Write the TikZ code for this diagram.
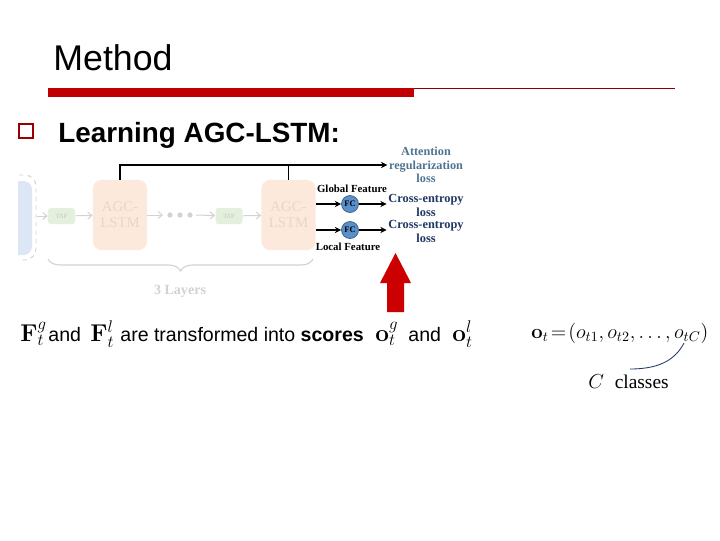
\documentclass[tikz,border=0pt]{standalone}
\usepackage[no-math]{fontspec}
\setmainfont{Liberation Sans}
\newfontfamily\tmsfont{Liberation Serif}
\usetikzlibrary{arrows.meta,decorations.pathreplacing}
\definecolor{slidered}{HTML}{C00000}
\definecolor{arrred}{HTML}{CC0000}
\definecolor{attblue}{HTML}{4E7592}
\definecolor{cenavy}{HTML}{1F3864}
\definecolor{fcblue}{HTML}{5B8FC9}
\definecolor{fadeor}{HTML}{FCE9DC}
\definecolor{fadeortx}{HTML}{EBD5C8}
\definecolor{fadegr}{HTML}{E4EFDD}
\definecolor{fadebl}{HTML}{DCE6F4}
\definecolor{fadetx}{HTML}{D2D2D2}
\tikzset{
  tapbox/.style={fill=fadegr,rounded corners=2pt,minimum width=.675cm,minimum height=.4cm,inner sep=0,
    font=\tmsfont\fontsize{4.5}{5}\selectfont,text=black!22},
  agcbox/.style={fill=fadeor,rounded corners=6pt,minimum width=1.35cm,minimum height=1.75cm,inner sep=0,
    align=center,font=\tmsfont\fontsize{10.5}{11.5}\selectfont,text=fadeortx},
  fadearr/.style={draw=fadetx,line width=.7pt,-{Straight Barb[length=3pt,width=5pt]}},
  fcnode/.style={circle,draw=fcblue!70!black,fill=fcblue,minimum size=.425cm,inner sep=0,
    font=\tmsfont\bfseries\fontsize{6}{6}\selectfont},
  losstext/.style={align=center,inner sep=1pt,font=\tmsfont\bfseries\fontsize{8.8}{10}\selectfont},
  feattext/.style={inner sep=0,font=\tmsfont\bfseries\fontsize{7.7}{8}\selectfont},
  blackarr/.style={line width=.9pt,-{Stealth[length=4.5pt,width=4.5pt]}},
  bodytext/.style={anchor=base west,inner sep=0,font=\fontsize{13.9}{16}\selectfont},
  bodymath/.style={anchor=base west,inner sep=0,font=\fontsize{18.5}{20}\selectfont},
}
\begin{document}
\begin{tikzpicture}[x=.025cm,y=-.025cm,line width=.55pt]
\useasboundingbox[fill=white] (0,0) rectangle (720,540);
\node[anchor=base west,inner sep=0,font=\fontsize{25.4}{30}\selectfont] (title) at (53,70) {Method};
\fill[slidered] (48,88) rectangle (414,97);
\draw[slidered!75!black,line width=.7pt] (414,88) -- (675,88);
\node[draw=slidered!80!black,line width=1.3pt,minimum size=.37cm,inner sep=0] (bul) at (26,131) {};
\node[anchor=base west,inner sep=0,font=\bfseries\fontsize{19.8}{24}\selectfont] (learn) at (58,142) {Learning AGC-LSTM:};
\begin{scope}
\clip (18,170) rectangle (60,270);
\fill[fadebl,rounded corners=6pt] (-10,181) rectangle (32,255);
\draw[fadetx,dashed,line width=.7pt,rounded corners=8pt] (-10,175) rectangle (36,260);
\end{scope}
\coordinate (inp) at (37,216);
\node[tapbox] (tap1) at (61.5,216) {TAP};
\node[agcbox] (agc1) at (120,215) {AGC-\\LSTM};
\node[inner sep=0,minimum size=.2cm] (dots) at (180,215) {};
\fill[fadetx] (170,215) circle (2.6) (180,215) circle (2.6) (190,215) circle (2.6);
\node[tapbox] (tap2) at (229,216) {TAP};
\node[agcbox] (agc2) at (288.5,215) {AGC-\\LSTM};
\draw[fadearr] (inp) -- (tap1);
\draw[fadearr] (tap1) -- (agc1);
\draw[fadearr] (agc1.east) -- (163,215);
\draw[fadearr] (196,215) -- (tap2);
\draw[fadearr] (tap2) -- (agc2);
\draw[fadetx,line width=.8pt,decorate,decoration={brace,mirror,amplitude=.3cm}] (48,259) -- (313,259);
\node[font=\tmsfont\bfseries\fontsize{10}{11}\selectfont,text=fadetx] (layers) at (180,291) {3 Layers};
\node[losstext,text=attblue,font=\tmsfont\bfseries\fontsize{8.7}{9.7}\selectfont] (att) at (426,165) {Attention\\regularization\\loss};
\draw[blackarr] (agc1.north) |- (att.west);
\draw[line width=.9pt] (agc2.north) -- (agc2.north |- att.west);
\node[feattext] (glob) at (352,189) {Global Feature};
\node[feattext] (loc) at (348,247) {Local Feature};
\node[fcnode] (fc1) at (350,204) {FC};
\node[fcnode] (fc2) at (350,230) {FC};
\node[losstext,text=cenavy] (ce1) at (426,205) {Cross-entropy\\loss};
\node[losstext,text=cenavy] (ce2) at (426,231) {Cross-entropy\\loss};
\draw[blackarr] (agc2.east |- fc1) -- (fc1);
\draw[blackarr] (agc2.east |- fc2) -- (fc2);
\draw[blackarr] (fc1) -- (ce1.west |- fc1);
\draw[blackarr] (fc2) -- (ce2.west |- fc2);
\fill[arrred] (387,312) -- (387,283) -- (380,283) -- (395.5,253) -- (411,283) -- (404,283) -- (404,312) -- cycle;
\node[bodymath] (fg) at (20,341) {$\mathbf{F}_t^g$};
\node[bodytext] (and1) at (48,341) {and};
\node[bodymath] (fl) at (90,341) {$\mathbf{F}_t^l$};
\node[bodytext] (desc) at (120,341) {are transformed into \textbf{scores}};
\node[bodymath] (og) at (375,341) {$\mathbf{o}_t^g$};
\node[bodytext] (and2) at (408,341) {and};
\node[bodymath] (ol) at (452,341) {$\mathbf{o}_t^l$};
\node[anchor=west,inner sep=0,font=\fontsize{14}{16}\selectfont] (ot) at (531,333) {$\mathbf{o}_t\!=\!(o_{t1},o_{t2},\ldots,o_{tC})$};
\node[anchor=base west,inner sep=0,font=\fontsize{13.8}{16}\selectfont] (cls) at (588,388) {$C$\ \ {\tmsfont classes}};
\coordinate (cstart) at (630,369);
\coordinate (cend) at (684,343);
\draw[cenavy,line width=.6pt] (cstart) .. controls (662,369) and (676,358) .. (cend);
\end{tikzpicture}
\end{document}
